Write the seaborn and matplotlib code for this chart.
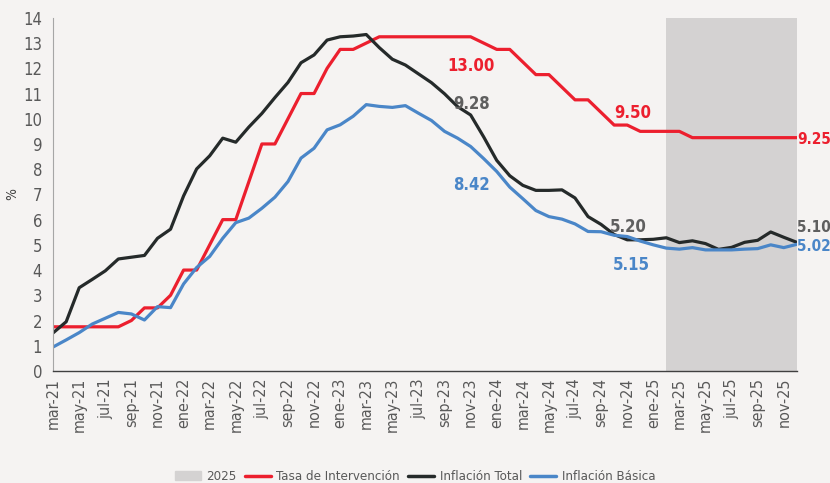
import numpy as np
import pandas as pd
import seaborn as sns
from matplotlib import pyplot as plt
from matplotlib.patches import Patch
from matplotlib.lines import Line2D

# monthly data mar-21 .. dic-25
mes = ['ene', 'feb', 'mar', 'abr', 'may', 'jun', 'jul', 'ago', 'sep', 'oct', 'nov', 'dic']
months = [f'{mes[m]}-{y}' for y in range(21, 26) for m in range(12)][2:]

tasa = [1.75, 1.75, 1.75, 1.75, 1.75, 1.75, 2.00, 2.50, 2.50, 3.00,
        4.00, 4.00, 5.00, 6.00, 6.00, 7.50, 9.00, 9.00, 10.00, 11.00, 11.00, 12.00,
        12.75, 12.75, 13.00, 13.25, 13.25, 13.25, 13.25, 13.25, 13.25, 13.25, 13.25, 13.00,
        12.75, 12.75, 12.25, 11.75, 11.75, 11.25, 10.75, 10.75, 10.25, 9.75, 9.75, 9.50,
        9.50, 9.50, 9.50, 9.25, 9.25, 9.25, 9.25, 9.25, 9.25, 9.25, 9.25, 9.25]

inflacion_total = [1.51, 1.95, 3.30, 3.63, 3.97, 4.44, 4.51, 4.58, 5.26, 5.62,
                   6.94, 8.01, 8.53, 9.23, 9.07, 9.67, 10.21, 10.84, 11.44, 12.22, 12.53, 13.12,
                   13.25, 13.28, 13.34, 12.82, 12.36, 12.13, 11.78, 11.43, 10.99, 10.48, 10.15, 9.28,
                   8.35, 7.74, 7.36, 7.16, 7.16, 7.18, 6.86, 6.12, 5.81, 5.41, 5.20, 5.20,
                   5.22, 5.28, 5.09, 5.16, 5.05, 4.82, 4.90, 5.10, 5.18, 5.51, 5.30, 5.10]

inflacion_basica = [0.95, 1.23, 1.52, 1.86, 2.09, 2.32, 2.26, 2.02, 2.55, 2.51,
                    3.45, 4.10, 4.54, 5.26, 5.88, 6.06, 6.45, 6.89, 7.51, 8.44, 8.83, 9.56,
                    9.76, 10.10, 10.56, 10.49, 10.45, 10.52, 10.22, 9.93, 9.50, 9.23, 8.90, 8.42,
                    7.91, 7.29, 6.83, 6.36, 6.12, 6.02, 5.83, 5.53, 5.52, 5.38, 5.33, 5.15,
                    5.00, 4.87, 4.83, 4.89, 4.80, 4.80, 4.80, 4.83, 4.85, 5.00, 4.89, 5.02]

# labelled points: (month, series)
etiquetas = [('dic-23', 'tasa'), ('dic-23', 'total'), ('dic-23', 'basica'),
             ('dic-24', 'tasa'), ('dic-24', 'total'), ('dic-24', 'basica'),
             ('dic-25', 'tasa'), ('dic-25', 'total'), ('dic-25', 'basica')]

df = pd.DataFrame({'i': np.arange(len(months)), 'mes': months, 'tasa': tasa,
                   'total': inflacion_total, 'basica': inflacion_basica})

RED = '#ec1f2e'
BLACK = '#252a2a'
BLUE = '#4a86c8'
GRAY_LBL = '#5f5f5f'
BG = '#f5f3f2'

sns.set_theme(style='white')
plt.rcParams['font.family'] = ['DejaVu Sans Condensed', 'Liberation Sans Narrow', 'DejaVu Sans']
plt.rcParams['font.stretch'] = 'condensed'

fig = plt.figure(figsize=(8.3, 4.83), dpi=100, facecolor=BG)
ax = fig.add_axes([0.064, 0.232, 0.896, 0.731])
ax.set_facecolor(BG)

# shaded 2025 block
ax.axvspan(months.index('feb-25'), len(months) - 1, color='#d4d2d2', lw=0, zorder=0)

sns.lineplot(data=df, x='i', y='tasa', color=RED, lw=2.3, ax=ax)
sns.lineplot(data=df, x='i', y='total', color=BLACK, lw=2.3, ax=ax)
sns.lineplot(data=df, x='i', y='basica', color=BLUE, lw=2.3, ax=ax)

ax.set_xlim(0, len(months) - 1)
ax.set_ylim(0, 14)
ax.set_yticks(range(0, 15))
ax.set_xticks(df['i'][::2])
ax.set_xticklabels(df['mes'][::2], rotation=90)
ax.set_xlabel('')
ax.set_ylabel('%', color='#404040', fontsize=10)
ax.yaxis.set_label_coords(-0.045, 0.5)
ax.tick_params(axis='y', labelsize=12, colors='#595959', length=4, width=0.8, direction='out', pad=4)
ax.tick_params(axis='x', labelsize=11.5, colors='#595959', length=4, width=0.8, direction='in', pad=5)
ax.tick_params(axis='x', color='#404040')
for s in ['top', 'right']:
    ax.spines[s].set_visible(False)
ax.spines['left'].set_color('#a6a6a6')
ax.spines['bottom'].set_color('#404040')
ax.spines['left'].set_linewidth(0.8)
ax.spines['bottom'].set_linewidth(1.0)

# value labels
col = {'tasa': RED, 'total': GRAY_LBL, 'basica': BLUE}
offs = {('dic-23', 'tasa'): (-1.0, -0.9, 'center'), ('dic-23', 'total'): (-0.9, 1.32, 'center'),
        ('dic-23', 'basica'): (-0.9, -1.04, 'center'),
        ('dic-24', 'tasa'): (-0.6, 0.74, 'center'), ('dic-24', 'total'): (-0.9, 0.51, 'center'),
        ('dic-24', 'basica'): (-0.7, -0.95, 'center'),
        ('dic-25', 'tasa'): (0.05, -0.08, 'left'), ('dic-25', 'total'): (0.05, 0.57, 'left'),
        ('dic-25', 'basica'): (0.05, -0.1, 'left')}
for m, s in etiquetas:
    k = months.index(m)
    v = df[s][k]
    dx, dy, ha = offs[(m, s)]
    fs = 11 if m == 'dic-25' else 12
    ax.text(k + dx, v + dy, f'{v:.2f}', color=col[s], fontsize=fs, fontweight='bold',
            ha=ha, va='center', clip_on=False)

handles = [Patch(color='#d4d2d2', label='2025'),
           Line2D([], [], color=RED, lw=2.5, label='Tasa de Intervención'),
           Line2D([], [], color=BLACK, lw=2.5, label='Inflación Total'),
           Line2D([], [], color=BLUE, lw=2.5, label='Inflación Básica')]
leg = fig.legend(handles=handles, loc='lower center', bbox_to_anchor=(0.5, -0.025), ncol=4,
                 frameon=False, fontsize=9.5, handlelength=2.0, handletextpad=0.4, columnspacing=0.6)
for t in leg.get_texts():
    t.set_color('#595959')

fig.savefig('out.png', dpi=100, facecolor=BG)
